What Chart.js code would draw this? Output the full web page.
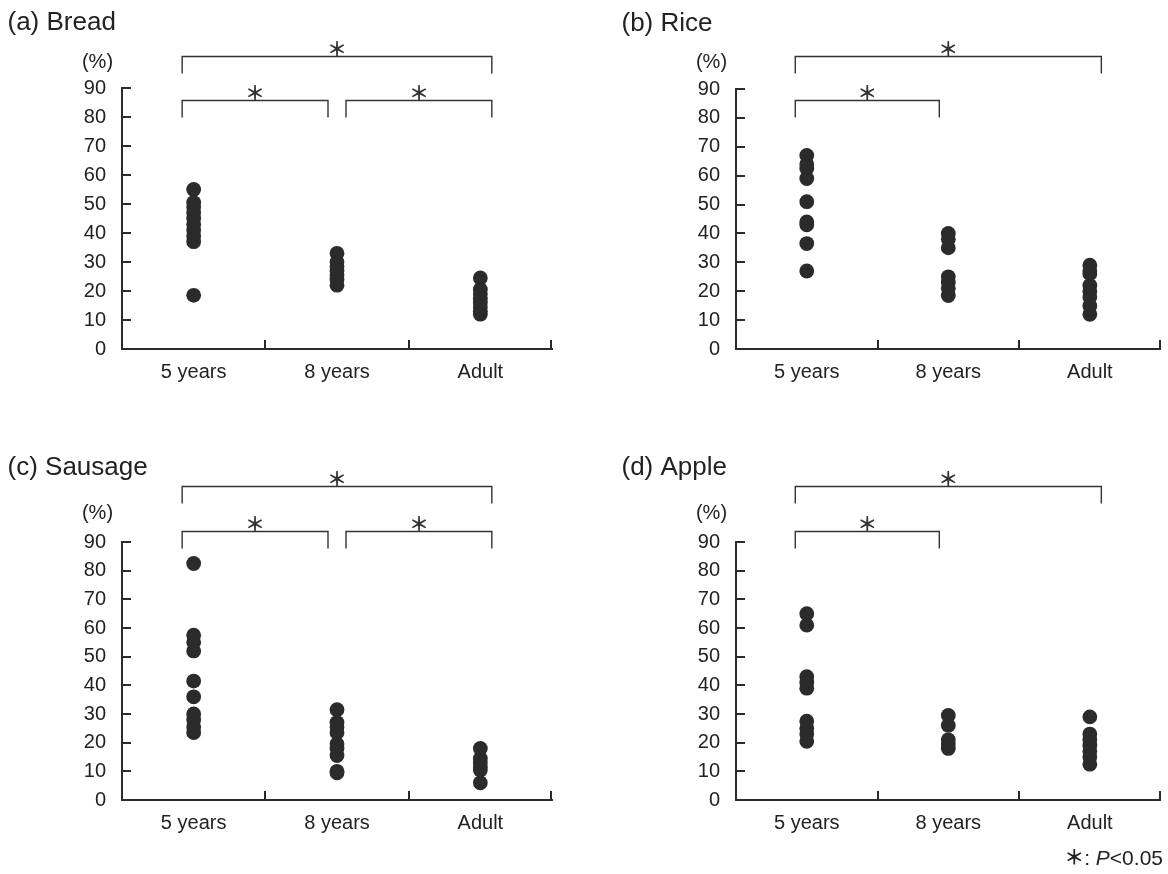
<!DOCTYPE html>
<html>
<head>
<meta charset="utf-8">
<script src="https://cdn.jsdelivr.net/npm/chart.js@4"></script>
<style>
  html, body { margin: 0; padding: 0; background: #fff; }
  body { width: 1168px; height: 874px; position: relative; overflow: hidden; font-family: "Liberation Sans", Arial, sans-serif; color: #222; }
  canvas { position: absolute; }
  #note { position: absolute; right: 5px; top: 845px; font-size: 21px; line-height: 24px; color: #222; }
  #note .ast { font-family: "Noto Sans CJK JP", sans-serif; font-size: 20px; font-weight: bold; }
</style>
</head>
<body>
<canvas id="chart-a"></canvas>
<canvas id="chart-b"></canvas>
<canvas id="chart-c"></canvas>
<canvas id="chart-d"></canvas>
<div id="note"><span class="ast">＊</span>: <i>P</i>&lt;0.05</div>

<script>
const groups = ['5 years', '8 years', 'Adult'];
const yTickValues = [0, 10, 20, 30, 40, 50, 60, 70, 80, 90];

// (a) Bread
const breadFive = [55, 50.5, 49, 47, 45, 43, 41, 39, 37, 18.5];
const breadEight = [33, 30, 28.5, 27, 25.5, 24, 22];
const breadAdult = [24.5, 20.5, 19, 17.5, 16, 14.5, 13, 12];
const breadPairs = [[0, 2], [0, 1], [1, 2]];

// (b) Rice
const riceFive = [67, 64, 62.5, 59, 51, 44, 43, 36.5, 27];
const riceEight = [40, 38, 35, 25, 23, 21, 18.5];
const riceAdult = [29, 27, 26, 22, 20, 18, 15, 12];
const ricePairs = [[0, 2], [0, 1]];

// (c) Sausage
const sausageFive = [82.5, 57.5, 55, 52, 41.5, 36, 30, 28, 25.5, 23.5];
const sausageEight = [31.5, 27, 25.5, 23.5, 19.5, 18, 15.5, 10, 9.5];
const sausageAdult = [18, 14.5, 13, 11.5, 10.5, 6];
const sausagePairs = [[0, 2], [0, 1], [1, 2]];

// (d) Apple
const appleFive = [65, 61, 43, 41, 39, 27.5, 25, 23, 20.5];
const appleEight = [29.5, 26, 21, 19.5, 18];
const appleAdult = [29, 23, 21, 19, 17, 15, 12.5];
const applePairs = [[0, 2], [0, 1]];

const FONT = '"Liberation Sans", Arial, sans-serif';
const INK = '#2b2b2b';

// panel decorations: titles, (%) label, inward ticks, significance brackets
const decor = {
    id: 'decor',
    afterDraw(chart, args, opts) {
        const {ctx, chartArea: area} = chart;
        const x = chart.scales.x, y = chart.scales.y;
        ctx.save();

        // inward ticks
        ctx.strokeStyle = INK;
        ctx.lineWidth = 2;
        ctx.beginPath();
        yTickValues.forEach(v => {
            if (v === 0) return;
            const py = Math.round(y.getPixelForValue(v));
            ctx.moveTo(area.left, py);
            ctx.lineTo(area.left + 9, py);
        });
        for (let i = 0; i < groups.length; i++) {
            const px = i < groups.length - 1
                ? Math.round((x.getPixelForValue(i) + x.getPixelForValue(i + 1)) / 2)
                : Math.round(area.right) - 1;
            ctx.moveTo(px, area.bottom);
            ctx.lineTo(px, area.bottom - 9);
        }
        ctx.stroke();

        // brackets
        ctx.lineWidth = 1.4;
        ctx.strokeStyle = '#333';
        ctx.fillStyle = '#333';
        ctx.font = 'bold 20px "Noto Sans CJK JP", sans-serif';
        ctx.textAlign = 'center';
        ctx.textBaseline = 'middle';
        opts.pairs.forEach(([a, b]) => {
            const outer = a === 0 && b === groups.length - 1;
            const py = Math.round(y.getPixelForValue(outer ? opts.levels[0] : opts.levels[1])) + 0.5;
            const left = x.getPixelForValue(a) + (a === 0 ? -11.5 : 9);
            const right = x.getPixelForValue(b) + (b === groups.length - 1 ? 11.5 : -9);
            ctx.beginPath();
            ctx.moveTo(left, py + 17);
            ctx.lineTo(left, py);
            ctx.lineTo(right, py);
            ctx.lineTo(right, py + 17);
            ctx.stroke();
            ctx.fillText('＊', (left + right) / 2, py - 7);
        });

        // title and unit
        ctx.fillStyle = '#222';
        ctx.textAlign = 'left';
        ctx.font = '26px ' + FONT;
        ctx.fillText(opts.title, area.left - 114.5, opts.titleY);
        ctx.textAlign = 'center';
        ctx.font = '20px ' + FONT;
        ctx.fillText('(%)', area.left - 24.5, opts.pctY);
        ctx.restore();
    }
};

function makePanel(id, box, title, five, eight, adult, pairs) {
    const canvas = document.getElementById(id);
    canvas.width = box.width;
    canvas.height = box.height;
    canvas.style.left = box.left + 'px';
    canvas.style.top = box.top + 'px';

    const points = [
        ...five.map(v => ({x: groups[0], y: v})),
        ...eight.map(v => ({x: groups[1], y: v})),
        ...adult.map(v => ({x: groups[2], y: v}))
    ];

    return new Chart(canvas, {
        type: 'scatter',
        data: {
            datasets: [{
                data: points,
                pointRadius: 7.4,
                pointBackgroundColor: INK,
                pointBorderWidth: 0
            }]
        },
        options: {
            responsive: false,
            animation: false,
            events: [],
            layout: {
                padding: {
                    top: box.areaTop - box.top,
                    right: box.left + box.width - box.areaRight,
                    left: 0,
                    bottom: 0
                }
            },
            plugins: {
                legend: { display: false },
                tooltip: { enabled: false },
                decor: { title: title, pairs: pairs, levels: box.levels, titleY: box.titleY - box.top, pctY: box.pctY - box.top }
            },
            scales: {
                x: {
                    type: 'category',
                    labels: groups,
                    offset: true,
                    grid: { display: false, drawTicks: false },
                    border: { color: INK, width: 2 },
                    ticks: { color: '#222', font: { family: FONT, size: 20 }, padding: 11, maxRotation: 0, autoSkip: false },
                    afterFit: s => { s.height = box.top + box.height - box.areaBottom; }
                },
                y: {
                    min: 0,
                    max: 90,
                    grid: { display: false, drawTicks: false },
                    border: { color: INK, width: 2 },
                    ticks: { color: '#222', font: { family: FONT, size: 20 }, padding: 16 },
                    afterBuildTicks: s => { s.ticks = yTickValues.map(v => ({value: v})); },
                    afterFit: s => { s.width = box.areaLeft - box.left; }
                }
            }
        },
        plugins: [decor]
    });
}

makePanel('chart-a',
    {left: 0, top: 0, width: 584, height: 437, areaLeft: 122, areaRight: 552, areaTop: 88, areaBottom: 349, titleY: 23, pctY: 62, levels: [101, 86]},
    '(a) Bread', breadFive, breadEight, breadAdult, breadPairs);
makePanel('chart-b',
    {left: 584, top: 0, width: 584, height: 437, areaLeft: 736, areaRight: 1164, areaTop: 89, areaBottom: 349, titleY: 24, pctY: 62, levels: [101.5, 86.3]},
    '(b) Rice', riceFive, riceEight, riceAdult, ricePairs);
makePanel('chart-c',
    {left: 0, top: 437, width: 584, height: 437, areaLeft: 122, areaRight: 552, areaTop: 542, areaBottom: 800, titleY: 467.5, pctY: 513, levels: [109.5, 94]},
    '(c) Sausage', sausageFive, sausageEight, sausageAdult, sausagePairs);
makePanel('chart-d',
    {left: 584, top: 437, width: 584, height: 437, areaLeft: 736, areaRight: 1164, areaTop: 542, areaBottom: 800, titleY: 467.5, pctY: 513, levels: [109.5, 94]},
    '(d) Apple', appleFive, appleEight, appleAdult, applePairs);
</script>
</body>
</html>
